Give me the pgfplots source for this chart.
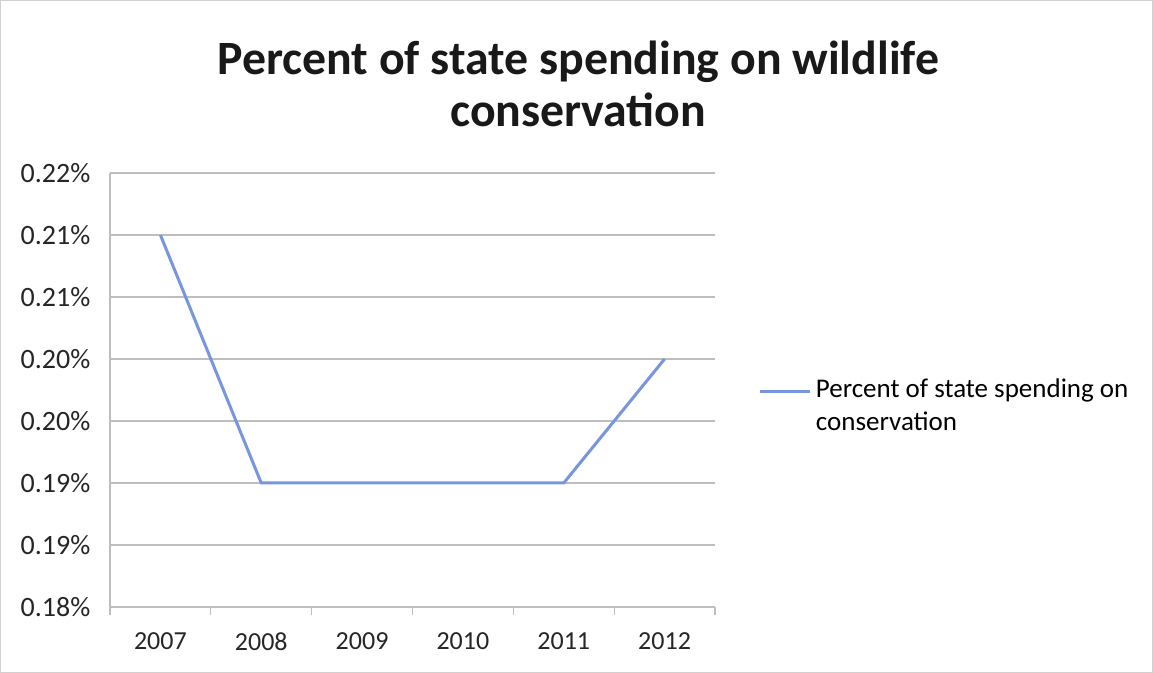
\documentclass[border=0pt]{standalone}
\usepackage{pgfplots}
\pgfplotsset{compat=1.18}
\usepackage{fontspec}
\setmainfont{Carlito}
\definecolor{serblue}{RGB}{120,150,222}
\definecolor{gridgray}{RGB}{190,190,190}
\begin{document}
\begin{tikzpicture}[x=1pt,y=1pt]
% frame: pixel (0,0)-(1153,673), axis lower-left at pixel (110,607), 1px = 0.5pt
\useasboundingbox (-55pt,-33pt) rectangle (521.5pt,303.5pt);
\path[fill=white,draw=gridgray!70,line width=0.6pt] (-54.7pt,-32.7pt) rectangle (521.2pt,303.2pt);
\begin{axis}[
  at={(0pt,0pt)}, anchor=south west,
  scale only axis,
  width=302.5pt, height=217pt,
  xmin=-0.5, xmax=5.5,
  ymin=0.18, ymax=0.215,
  axis lines*=left,
  axis line style={gridgray, line width=0.6pt},
  xtick={0,...,5},
  xticklabels={2007,2008,2009,2010,2011,2012},
  minor xtick={-0.5,0.5,...,5.5},
  major x tick style={draw=none},
  minor x tick style={gridgray, line width=0.6pt},
  minor tick length=4pt,
  tick align=outside,
  ytick={0.18,0.185,0.19,0.195,0.2,0.205,0.21,0.215},
  yticklabels={0.18\%,0.19\%,0.19\%,0.20\%,0.20\%,0.21\%,0.21\%,0.22\%},
  major y tick style={draw=none},
  ymajorgrids,
  grid style={gridgray, line width=0.6pt},
  tick label style={font=\fontsize{13}{15}\selectfont, text=black!85},
  yticklabel style={xshift=-2pt, font=\fontsize{14}{16}\selectfont},
  xticklabel style={yshift=-5pt},
  legend style={draw=none, fill=none, at={(1.062,0.463)}, anchor=west,
    font=\fontsize{13.5}{16.5}\selectfont, cells={align=left}},
  legend cell align=left,
  legend image code/.code={\draw[#1, line width=1.5pt] (0pt,7.5pt) -- (25pt,7.5pt);},
  clip=false,
]
\addplot[serblue, line width=1.5pt] coordinates {
  (0,0.21) (1,0.19) (2,0.19) (3,0.19) (4,0.19) (5,0.20)
};
\addlegendentry{Percent of state spending on\\conservation}
\node[font=\bfseries\fontsize{23.9}{26}\selectfont, align=center, text=black!90]
  at (rel axis cs:0.774,1.205) {Percent of state spending on wildlife\\conservation};
\end{axis}
\end{tikzpicture}
\end{document}
